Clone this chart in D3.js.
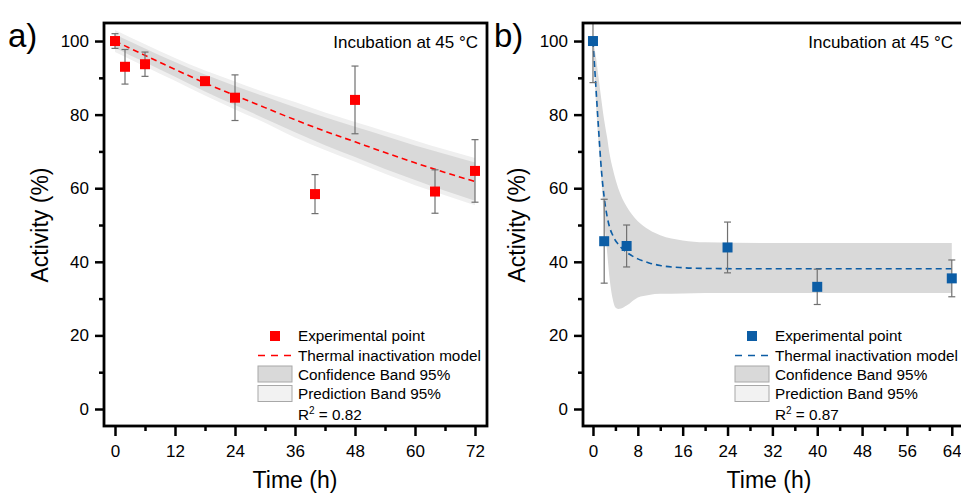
<!DOCTYPE html>
<html>
<head>
<meta charset="utf-8">
<script src="https://cdn.jsdelivr.net/npm/d3@7"></script>
<style>
  body { margin: 0; background: #fff; }
  svg { font-family: "Liberation Sans", Arial, sans-serif; }
</style>
</head>
<body>
<svg id="chart" width="961" height="493"></svg>
<script>
// ---- panel a) data (read from the figure) ----
const aTime = [0, 2, 6, 18, 24, 40, 48, 64, 72];
const aActivity = [100, 93.0, 93.7, 89.1, 84.6, 58.4, 84.0, 59.1, 64.7];
const aError = [2.0, 4.7, 3.3, 0.9, 6.2, 5.3, 9.2, 5.9, 8.5];
const aModelT = [0, 6, 12, 18, 24, 30, 36, 42, 48, 54, 60, 66, 72];
const aModel = [100, 96.1, 92.3, 88.6, 85.2, 81.9, 78.6, 75.5, 72.6, 69.7, 66.9, 64.3, 61.8];
const aConfUp = [101.8, 98.0, 94.3, 90.9, 87.8, 84.9, 82.0, 79.3, 76.7, 74.2, 71.6, 69.3, 67.0];
const aConfLo = [98.2, 94.2, 90.3, 86.3, 82.6, 78.9, 75.2, 71.7, 68.5, 65.2, 62.2, 59.3, 56.6];
const aPredUp = [103.0, 99.1, 95.4, 92.0, 89.0, 86.0, 83.4, 80.6, 78.0, 75.5, 73.0, 70.5, 68.2];
const aPredLo = [97.0, 93.1, 89.2, 85.2, 81.4, 77.8, 73.8, 70.4, 67.2, 63.9, 60.8, 58.1, 55.4];

// ---- panel b) data ----
const bTime = [0, 2, 6, 24, 40, 64];
const bActivity = [100, 45.6, 44.3, 43.9, 33.2, 35.5];
const bError = [11.3, 11.4, 5.7, 6.9, 4.8, 5.0];
const bModelT = [0, 0.5, 1, 1.5, 2, 2.5, 3, 3.5, 4, 4.5, 5, 6, 8, 10, 12, 16, 20, 30, 64];
const bModel = [100, 88, 76, 65, 57.5, 52.5, 49.2, 47.3, 45.8, 44.8, 43.9, 42.6, 40.8, 39.7, 39.0, 38.4, 38.2, 38.1, 38.1];
const bConfUp = [100, 96, 90, 84, 78.5, 74, 69, 65.5, 62.5, 60, 58, 55, 51, 48.7, 47.2, 45.8, 45.3, 45.1, 45.1];
const bConfLo = [100, 84, 72, 62, 51, 43, 35, 30, 27.6, 27.2, 27.3, 28.1, 30.3, 31.0, 31.3, 31.4, 31.5, 31.5, 31.5];

const yTicks = [0, 20, 40, 60, 80, 100];
const yMinor = [10, 30, 50, 70, 90];

const svg = d3.select("#chart");

function drawPanel(cfg) {
    const x = d3.scaleLinear().domain(cfg.xDomain).range([cfg.left, cfg.right]);
    const y = d3.scaleLinear().domain([-4.62, 104.9]).range([426, 23]);
    const g = svg.append("g");
    const clipId = "clip-" + cfg.name;
    svg.append("clipPath").attr("id", clipId)
        .append("rect").attr("x", cfg.left).attr("y", 23)
        .attr("width", cfg.right - cfg.left).attr("height", 403);
    const plot = g.append("g").attr("clip-path", "url(#" + clipId + ")");

    if (cfg.predUp) {
        const pred = cfg.modelT.map((t, i) => [t, cfg.predLo[i], cfg.predUp[i]]);
        plot.append("path").datum(pred)
            .attr("fill", "#efefef")
            .attr("d", d3.area().curve(d3.curveMonotoneX).x(d => x(d[0])).y0(d => y(d[1])).y1(d => y(d[2])));
    }
    const conf = cfg.modelT.map((t, i) => [t, cfg.confLo[i], cfg.confUp[i]]);
    plot.append("path").datum(conf)
        .attr("fill", "#d9d9d9")
        .attr("d", d3.area().curve(d3.curveMonotoneX).x(d => x(d[0])).y0(d => y(d[1])).y1(d => y(d[2])));

    const model = cfg.modelT.map((t, i) => [t, cfg.model[i]]);
    plot.append("path").datum(model)
        .attr("fill", "none").attr("stroke", cfg.color).attr("stroke-width", 1.6)
        .attr("stroke-dasharray", "6,4")
        .attr("d", d3.line().curve(d3.curveMonotoneX).x(d => x(d[0])).y(d => y(d[1])));

    const pts = cfg.time.map((t, i) => ({t: t, v: cfg.activity[i], e: cfg.error[i]}));
    const eb = plot.append("g").attr("stroke", "#707070").attr("stroke-width", 1.2);
    eb.selectAll("line.v").data(pts).join("line").attr("class", "v")
        .attr("x1", d => x(d.t)).attr("x2", d => x(d.t))
        .attr("y1", d => y(d.v - d.e)).attr("y2", d => y(d.v + d.e));
    eb.selectAll("line.top").data(pts).join("line").attr("class", "top")
        .attr("x1", d => x(d.t) - 3.5).attr("x2", d => x(d.t) + 3.5)
        .attr("y1", d => y(d.v + d.e)).attr("y2", d => y(d.v + d.e));
    eb.selectAll("line.bot").data(pts).join("line").attr("class", "bot")
        .attr("x1", d => x(d.t) - 3.5).attr("x2", d => x(d.t) + 3.5)
        .attr("y1", d => y(d.v - d.e)).attr("y2", d => y(d.v - d.e));
    plot.selectAll("rect.pt").data(pts).join("rect").attr("class", "pt")
        .attr("x", d => x(d.t) - 5).attr("y", d => y(d.v) - 5)
        .attr("width", 10).attr("height", 10).attr("fill", cfg.color);

    // axes
    const yAxis = g.append("g").attr("transform", "translate(" + cfg.left + ",0)")
        .call(d3.axisLeft(y).tickValues(yTicks).tickSize(9).tickPadding(6));
    const yMin = g.append("g").attr("transform", "translate(" + cfg.left + ",0)")
        .call(d3.axisLeft(y).tickValues(yMinor).tickSize(5).tickFormat(""));
    const xAxis = g.append("g").attr("transform", "translate(0,426)")
        .call(d3.axisBottom(x).tickValues(cfg.xTicks).tickSize(10).tickPadding(9));
    const xMin = g.append("g").attr("transform", "translate(0,426)")
        .call(d3.axisBottom(x).tickValues(cfg.xMinor).tickSize(5).tickFormat(""));
    [yAxis, yMin, xAxis, xMin].forEach(a => {
        a.select(".domain").remove();
        a.selectAll(".tick line").attr("stroke", "#000").attr("stroke-width", 2.5);
        a.selectAll(".tick text").attr("font-size", 17).attr("fill", "#000")
            .attr("font-family", "Liberation Sans, Arial, sans-serif");
    });

    g.append("rect").attr("x", cfg.left).attr("y", 23)
        .attr("width", cfg.right - cfg.left).attr("height", 403)
        .attr("fill", "none").attr("stroke", "#000").attr("stroke-width", 2.8);

    g.append("text").attr("x", cfg.titleX).attr("y", 488)
        .attr("text-anchor", "middle").attr("font-size", 23).text("Time (h)");
    g.append("text").attr("transform", "translate(" + cfg.yTitleX + ",225) rotate(-90)")
        .attr("text-anchor", "middle").attr("font-size", 23).text("Activity (%)");
    g.append("text").attr("x", cfg.labelX).attr("y", 47).attr("font-size", 33).text(cfg.label);
    g.append("text").attr("x", cfg.incX).attr("y", 48).attr("text-anchor", "end")
        .attr("font-size", 17).text("Incubation at 45 °C");

    // legend
    const lx = cfg.legX, tx = cfg.legX + 40;
    const lg = g.append("g").attr("font-size", 15.3);
    lg.append("rect").attr("x", lx + 12).attr("y", 331).attr("width", 10).attr("height", 10).attr("fill", cfg.color);
    lg.append("text").attr("x", tx).attr("y", 341).text("Experimental point");
    lg.append("line").attr("x1", lx).attr("x2", lx + 34).attr("y1", 355.5).attr("y2", 355.5)
        .attr("stroke", cfg.color).attr("stroke-width", 1.6).attr("stroke-dasharray", "7,6");
    lg.append("text").attr("x", tx).attr("y", 361).text("Thermal inactivation model");
    lg.append("rect").attr("x", lx).attr("y", 366).attr("width", 34).attr("height", 16)
        .attr("fill", "#d9d9d9").attr("stroke", "#a8a8a8").attr("stroke-width", 1);
    lg.append("text").attr("x", tx).attr("y", 379.5).text("Confidence Band 95%");
    lg.append("rect").attr("x", lx).attr("y", 385.5).attr("width", 34).attr("height", 16)
        .attr("fill", "#f2f2f2").attr("stroke", "#a8a8a8").attr("stroke-width", 1);
    lg.append("text").attr("x", tx).attr("y", 399).text("Prediction Band 95%");
    const r2 = lg.append("text").attr("x", tx).attr("y", 419.5);
    r2.append("tspan").text("R");
    r2.append("tspan").attr("font-size", 10).attr("dy", -6).text("2");
    r2.append("tspan").attr("dy", 6).text(" = " + cfg.r2);
}

drawPanel({
    name: "a", left: 104, right: 487, xDomain: [-2.2, 74.4],
    xTicks: [0, 12, 24, 36, 48, 60, 72], xMinor: [6, 18, 30, 42, 54, 66],
    time: aTime, activity: aActivity, error: aError,
    modelT: aModelT, model: aModel, confUp: aConfUp, confLo: aConfLo, predUp: aPredUp, predLo: aPredLo,
    color: "#ff0000", label: "a)", labelX: 8, yTitleX: 48, incX: 478, legX: 258, r2: "0.82", titleX: 295
});
drawPanel({
    name: "b", left: 583, right: 963, xDomain: [-1.78, 66.0],
    xTicks: [0, 8, 16, 24, 32, 40, 48, 56, 64], xMinor: [4, 12, 20, 28, 36, 44, 52, 60],
    time: bTime, activity: bActivity, error: bError,
    modelT: bModelT, model: bModel, confUp: bConfUp, confLo: bConfLo,
    color: "#0c5da5", label: "b)", labelX: 494, yTitleX: 525, incX: 953, legX: 735, r2: "0.87", titleX: 769
});
</script>
</body>
</html>
